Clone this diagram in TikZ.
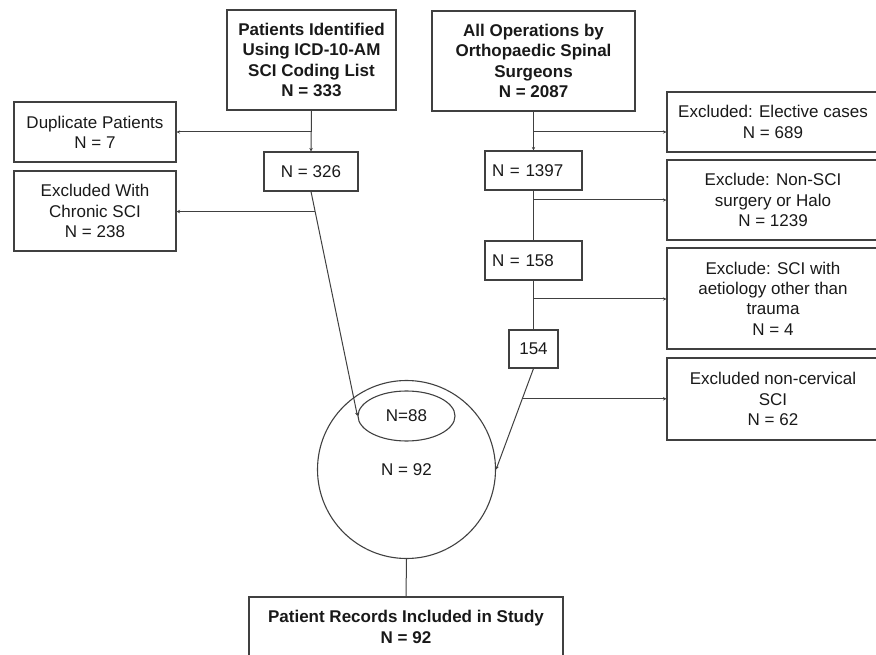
\documentclass[tikz,border=0pt]{standalone}
\usepackage{fontspec}
\setmainfont{Liberation Sans}
\usetikzlibrary{arrows.meta,shapes.geometric,calc}
\begin{document}
\begin{tikzpicture}[x=1pt,y=-1pt,
  every node/.style={font=\fontsize{17}{20.3}\selectfont, text=black!90},
  box/.style={draw=black!75, line width=1.1pt, rectangle, align=center, inner sep=0pt},
  bold/.style={font=\fontsize{17}{20.3}\selectfont\bfseries},
  conn/.style={draw=black!75, line width=1pt},
  arr/.style={conn, -{Stealth[length=3.5pt,width=3.5pt]}}]
\useasboundingbox (0,0) rectangle (876,655);
\clip (0,0) rectangle (876,655);
% left column
\node[box,bold,minimum width=169,minimum height=100] (pid) at (311.5,60) {Patients Identified\\Using ICD-10-AM\\SCI Coding List\\N = 333};
\node[box,minimum width=162,minimum height=60] (dup) at (95,132) {Duplicate Patients\\N = 7};
\node[box,minimum width=94,minimum height=39] (n326) at (311,171.5) {N = 326};
\node[box,minimum width=162,minimum height=80] (chr) at (95,211) {Excluded With\\Chronic SCI\\N = 238};
% right column
\node[box,bold,minimum width=203,minimum height=100] (ops) at (533.5,61) {All Operations by\\Orthopaedic Spinal\\Surgeons\\N = 2087};
\node[box,minimum width=212,minimum height=60] (elec) at (773,122) {Excluded: Elective cases\\N = 689};
\node[box,minimum width=97,minimum height=39,text width=83,inner xsep=7,align=left] (n1397) at (533.5,170.5) {N = 1397};
\node[box,minimum width=212,minimum height=80] (nonsci) at (773,200) {Exclude: Non-SCI\\surgery or Halo\\N = 1239};
\node[box,minimum width=97,minimum height=39,text width=83,inner xsep=7,align=left] (n158) at (533.5,260.5) {N = 158};
\node[box,minimum width=212,minimum height=101] (aet) at (773,298.5) {Exclude: SCI with\\aetiology other than\\trauma\\N = 4};
\node[box,minimum width=49,minimum height=38] (n154) at (533.5,349) {154};
\node[box,minimum width=212,minimum height=82] (cerv) at (773,399) {Excluded non-cervical\\SCI\\N = 62};
% merge
\node[draw=black!75,line width=1.1pt,circle,minimum size=178,inner sep=0pt] (circ) at (406.5,469.5) {N = 92};
\node[draw=black!75,line width=1.1pt,ellipse,minimum width=97,minimum height=50,inner sep=0pt] (ell) at (406.5,416) {N=88};
\node[box,bold,minimum width=314,minimum height=60] (final) at (406,627) {Patient Records Included in Study\\N = 92};
% connectors left
\draw[arr] (pid.south) -- (n326.north);
\coordinate (b1) at (311.5,132);
\draw[arr] (b1) -- (b1 -| dup.east);
\draw[arr] (n326.south) -- (ell.west);
\path (n326.south) -- (ell.west) coordinate[pos=0.089] (b2);
\draw[arr] (b2) -- (b2 -| chr.east);
% connectors right
\draw[arr] (ops.south) -- (n1397.north);
\coordinate (b3) at (533.5,132);
\draw[arr] (b3) -- (b3 -| elec.west);
\draw[conn] (n1397.south) -- (n158.north);
\coordinate (b4) at (533.5,200);
\draw[arr] (b4) -- (b4 -| nonsci.west);
\draw[conn] (n158.south) -- (n154.north);
\coordinate (b5) at (533.5,299);
\draw[arr] (b5) -- (b5 -| aet.west);
\draw[arr] (n154.south) -- (circ.east);
\path (n154.south) -- (circ.east) coordinate[pos=0.3] (b6);
\draw[arr] (b6) -- (b6 -| cerv.west);
% to final
\draw[conn] (circ.south) -- (final.north);
\end{tikzpicture}
\end{document}
